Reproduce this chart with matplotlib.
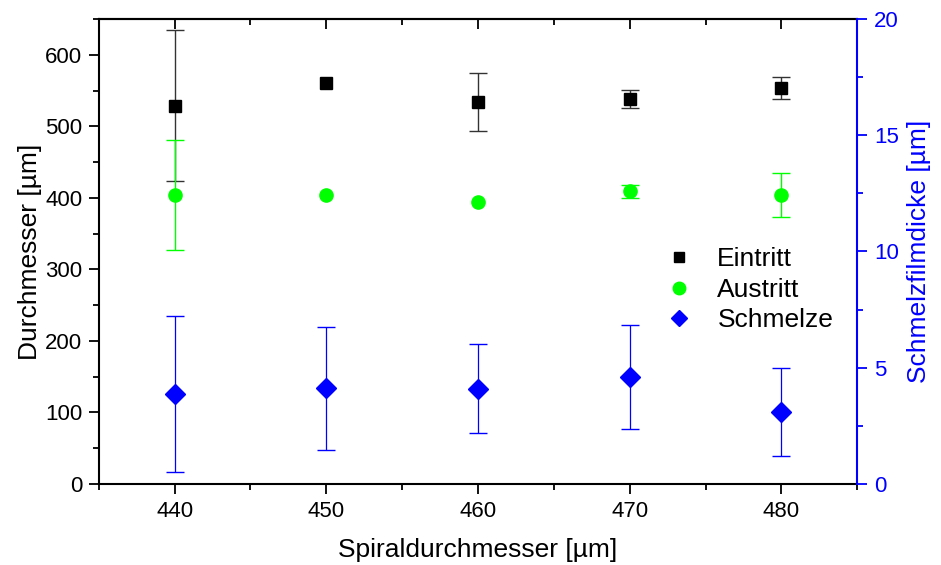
import matplotlib
matplotlib.use("Agg")
import numpy as np
import matplotlib.pyplot as plt
from matplotlib.lines import Line2D
from matplotlib.ticker import MultipleLocator

plt.rcParams['font.family'] = ['Liberation Sans', 'DejaVu Sans']

x = [440, 450, 460, 470, 480]
eintritt = [529, 561, 534, 538, 553]
eintritt_err = [105, 0, 40, 13, 15.5]
austritt = [404, 404, 394, 409, 404]
austritt_err = [77.5, 0, 0, 9.5, 31]
schmelze = [3.87, 4.11, 4.10, 4.60, 3.10]
schmelze_err = [3.37, 2.63, 1.9, 2.22, 1.9]

BLUE = '#0000FF'
GREEN = '#00FF00'


def nz(err):
    e = np.asarray(err, dtype=float)
    return np.where(e == 0, np.nan, e)


fig = plt.figure(figsize=(9.41, 5.65), dpi=100)
ax = fig.add_axes([0.105, 0.1434, 0.806, 0.823])
ax2 = ax.twinx()

ax.errorbar(x, eintritt, yerr=nz(eintritt_err), fmt='s', color='black', ms=8.5,
            ecolor='#333333', elinewidth=1, capsize=6.5, capthick=1, zorder=3)
ax.errorbar(x, austritt, yerr=nz(austritt_err), fmt='o', color=GREEN, ms=9.5,
            ecolor=GREEN, elinewidth=1, capsize=6.5, capthick=1, zorder=3)
ax2.errorbar(x, schmelze, yerr=nz(schmelze_err), fmt='D', color=BLUE, ms=10.5,
             ecolor=BLUE, elinewidth=0.9, capsize=6.5, capthick=1, zorder=3)

ax.set_xlim(435, 485)
ax.set_ylim(0, 650)
ax2.set_ylim(0, 20)

ax.xaxis.set_major_locator(MultipleLocator(10))
ax.xaxis.set_minor_locator(MultipleLocator(5))
ax.yaxis.set_major_locator(MultipleLocator(100))
ax.yaxis.set_minor_locator(MultipleLocator(50))
ax2.yaxis.set_major_locator(MultipleLocator(5))
ax2.yaxis.set_minor_locator(MultipleLocator(2.5))

for a in (ax, ax2):
    for s in a.spines.values():
        s.set_linewidth(1.5)
ax2.spines['right'].set_color(BLUE)
ax2.spines['left'].set_visible(False)
ax2.spines['top'].set_visible(False)
ax2.spines['bottom'].set_visible(False)
ax.spines['right'].set_visible(False)

TS = 16
ax.tick_params(axis='both', which='major', direction='out', length=7, width=1.3,
               labelsize=TS, top=False, right=False, pad=5)
ax.tick_params(axis='both', which='minor', direction='out', length=4, width=1.3,
               top=False, right=False)
ax2.tick_params(axis='y', which='major', direction='out', length=7, width=1.3,
                labelsize=TS, colors=BLUE, pad=5)
ax2.tick_params(axis='y', which='minor', direction='out', length=4, width=1.3,
                colors=BLUE)

sec = ax.secondary_xaxis('top')
sec.xaxis.set_major_locator(MultipleLocator(10))
sec.xaxis.set_minor_locator(MultipleLocator(5))
sec.tick_params(which='major', direction='in', length=7, width=1.3, labeltop=False)
sec.tick_params(which='minor', direction='in', length=4, width=1.3)
sec.spines['top'].set_linewidth(1.5)

LS = 19
ax.set_xlabel('Spiraldurchmesser [µm]', fontsize=LS, labelpad=12)
ax.set_ylabel('Durchmesser [µm]', fontsize=LS, labelpad=2)
ax2.set_ylabel('Schmelzfilmdicke [µm]', fontsize=LS, color=BLUE, labelpad=6)

handles = [
    Line2D([], [], ls='none', marker='s', color='black', ms=7.5),
    Line2D([], [], ls='none', marker='o', color=GREEN, ms=9),
    Line2D([], [], ls='none', marker='D', color=BLUE, ms=8),
]
ax2.legend(handles, ['Eintritt', 'Austritt', 'Schmelze'], frameon=False,
           fontsize=19, loc='upper left', bbox_to_anchor=(0.681, 0.595),
           bbox_transform=fig.transFigure, handletextpad=0.7, labelspacing=0.25,
           handlelength=1.5, borderpad=0.2)

fig.savefig('out.png', dpi=100)
